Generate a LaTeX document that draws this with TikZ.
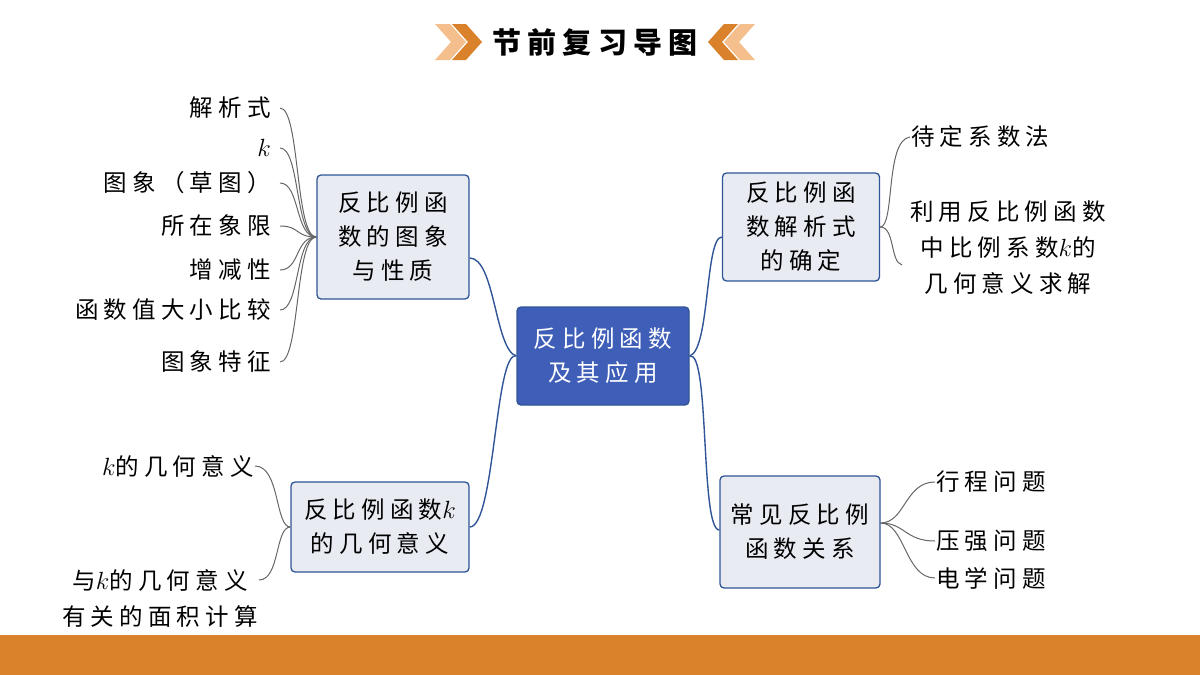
\documentclass[tikz,border=0pt]{standalone}
\usepackage{fontspec}
\setmainfont{Noto Sans CJK SC}[LetterSpace=22]
\usetikzlibrary{positioning}
\definecolor{mainblue}{HTML}{3F5EB8}
\definecolor{boxfill}{HTML}{E9EBF2}
\definecolor{boxline}{HTML}{2F5597}
\definecolor{barorange}{HTML}{D9822B}
\definecolor{lightorange}{HTML}{F4BF8C}
\tikzset{
  topic/.style={draw=boxline, line width=1.3pt, fill=boxfill, rounded corners=4pt, align=center, font=\fontsize{23.5}{34}\selectfont, inner sep=0pt},
  leaf/.style={font=\fontsize{23.5}{36}\selectfont, inner sep=1pt, align=center},
  branch/.style={boxline, line width=1.4pt},
  twig/.style={gray!80!black, line width=1pt}
}
\begin{document}
\begin{tikzpicture}[x=1pt,y=-1pt]
    \useasboundingbox (0,0) rectangle (1200,675);
    % bottom bar
    \fill[barorange] (0,635) rectangle (1200,675);
    % title with chevrons
    \node[font=\fontsize{29}{30}\selectfont\bfseries] (title) at (595,42) {节前复习导图};
    \fill[lightorange] (435,24) -- (450,24) -- (466,42) -- (450,60) -- (435,60) -- (451,42) -- cycle;
    \fill[barorange] (452,24) -- (466,24) -- (482,42) -- (466,60) -- (452,60) -- (468,42) -- cycle;
    \fill[lightorange] (755,24) -- (740,24) -- (724,42) -- (740,60) -- (755,60) -- (739,42) -- cycle;
    \fill[barorange] (738,24) -- (724,24) -- (708,42) -- (724,60) -- (738,60) -- (722,42) -- cycle;

    % main topics
    \node[topic, fill=mainblue, text=white, minimum width=172pt, minimum height=98pt] (center) at (603,356) {反比例函数\\及其应用};
    \node[topic, minimum width=152pt, minimum height=124pt] (graph) at (393,237) {反比例函\\数的图象\\与性质};
    \node[topic, minimum width=157pt, minimum height=108pt] (formula) at (801,227) {反比例函\\数解析式\\的确定};
    \node[topic, minimum width=178pt, minimum height=90pt] (geom) at (380,527) {反比例函数$k$\\的几何意义};
    \node[topic, minimum width=160pt, minimum height=112pt] (relation) at (800,532) {常见反比例\\函数关系};

    % main branches
    \draw[branch] (center.west) .. controls (495,350) and (495,258) .. (graph.east |- 0,258);
    \draw[branch] (center.west) .. controls (495,350) and (495,527) .. (geom.east);
    \draw[branch] (center.east) .. controls (710,350) and (705,237) .. (formula.west |- 0,237);
    \draw[branch] (center.east) .. controls (710,350) and (700,530) .. (relation.west |- 0,530);

    % leaves of graph
    \foreach \name/\y/\txt in {a/108/解析式, b/148/$k$, c/183/图象（草图）, d/226/所在象限, e/270/增减性, f/310/函数值大小比较, g/362/图象特征} {
        \node[leaf, anchor=east] (\name) at (272,\y) {\txt};
        \draw[twig] (\name.east) ++(8,0) .. controls (300,\y) and (295,237) .. (graph.west);
    }

    % leaves of formula
    \node[leaf, anchor=west] (fa) at (910,137) {待定系数法};
    \node[leaf] (fb) at (1008,248) {利用反比例函数\\中比例系数$k$的\\几何意义求解};
    \draw[twig] (formula.east) .. controls (895,227) and (885,140) .. (fa.west);
    \draw[twig] (formula.east) .. controls (895,227) and (890,262) .. (902,265);

    % leaves of geom
    \node[leaf, anchor=east] (ga) at (255,466) {$k$的几何意义};
    \node[leaf] (gb) at (160,598) {与$k$的几何意义\\有关的面积计算};
    \draw[twig] (geom.west) .. controls (275,527) and (280,466) .. (ga.east);
    \draw[twig] (geom.west) .. controls (275,527) and (280,580) .. (gb.east |- 0,580);

    % leaves of relation
    \foreach \name/\y/\txt in {ra/482/行程问题, rb/541/压强问题, rc/578/电学问题} {
        \node[leaf, anchor=west] (\name) at (935,\y) {\txt};
        \draw[twig] (relation.east |- 0,523) .. controls (905,523) and (905,\y) .. (\name.west);
    }
\end{tikzpicture}
\end{document}
